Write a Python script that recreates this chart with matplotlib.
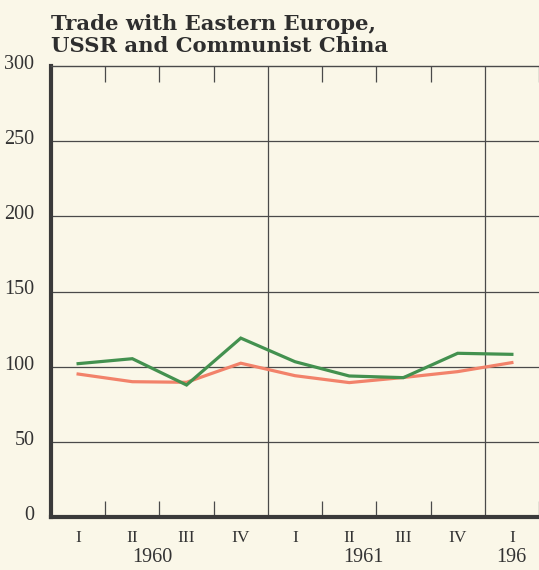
import matplotlib
matplotlib.use("Agg")
import matplotlib.pyplot as plt
import matplotlib.transforms as mtransforms

quarters = ["I", "II", "III", "IV", "I", "II", "III", "IV", "I"]
years = ["1960", "1961", "196"]
green_series = [102, 105.3, 87.8, 119, 103.3, 93.8, 92.7, 108.9, 108.2]
orange_series = [95.1, 90, 89.6, 102.3, 94, 89.4, 92.8, 96.7, 102.7]
y_ticks = [0, 50, 100, 150, 200, 250, 300]

bg = "#faf7e8"
grid_c = "#4a4a4a"
green = "#43914f"
orange = "#f2826a"

fig = plt.figure(figsize=(5.39, 5.70), dpi=100, facecolor=bg)
ax = fig.add_axes([51/539, 53/570, 1 - 51/539, 451/570], facecolor=bg)

x = [i + 0.5 for i in range(len(quarters))]
ax.plot(x, orange_series, color=orange, lw=2.3, solid_joinstyle="miter", zorder=3)
ax.plot(x, green_series, color=green, lw=2.3, solid_joinstyle="miter", zorder=4)

ax.set_xlim(0, 8.98)
ax.set_ylim(0, 300)

for v in y_ticks[1:-1]:
    ax.axhline(v, color=grid_c, lw=0.9, zorder=1)
for v in [4, 8]:
    ax.axvline(v, color=grid_c, lw=0.9, zorder=1)

ax.spines["right"].set_visible(False)
ax.spines["top"].set_color(grid_c)
ax.spines["top"].set_linewidth(1.0)
ax.spines["left"].set_color("#3a3a3a")
ax.spines["left"].set_linewidth(3.0)
ax.spines["bottom"].set_color("#3a3a3a")
ax.spines["bottom"].set_linewidth(3.0)

ax.set_xticks([1, 2, 3, 5, 6, 7, 9])
ax.tick_params(axis="x", which="major", direction="in", top=True, bottom=True,
               length=11.5, width=0.9, color=grid_c, labelbottom=False)
ax.set_xticks(x, minor=True)
ax.set_xticklabels(quarters, minor=True)
ax.tick_params(axis="x", which="minor", length=0, pad=9, labelsize=12.5, labelcolor="#333333")
for lab in ax.get_xticklabels(minor=True):
    lab.set_fontfamily("Liberation Serif")

ax.set_yticks(y_ticks)
ax.set_yticklabels([str(v) for v in y_ticks])
ax.tick_params(axis="y", length=0, pad=12, labelsize=14.5, labelcolor="#333333")
offset = mtransforms.ScaledTranslation(0, 4/100, fig.dpi_scale_trans)
for lab in ax.get_yticklabels():
    lab.set_fontfamily("Liberation Serif")
    lab.set_transform(lab.get_transform() + offset)

trans = mtransforms.blended_transform_factory(ax.transData, fig.transFigure)
for xpos, yr, ha in zip([1.87, 5.76, 8.21], years, ["center", "center", "left"]):
    ax.text(xpos, 8/570, yr, transform=trans, ha=ha, va="baseline",
            fontsize=14.5, family="Liberation Serif", color="#333333", clip_on=False)

fig.text(51/539, 1 - 30/570, "Trade with Eastern Europe,", fontsize=15.2,
         family="DejaVu Serif", weight="bold", color="#2e2e2e", va="baseline")
fig.text(51/539, 1 - 52/570, "USSR and Communist China", fontsize=15.2,
         family="DejaVu Serif", weight="bold", color="#2e2e2e", va="baseline")

fig.savefig("out.png", dpi=100, facecolor=bg)
